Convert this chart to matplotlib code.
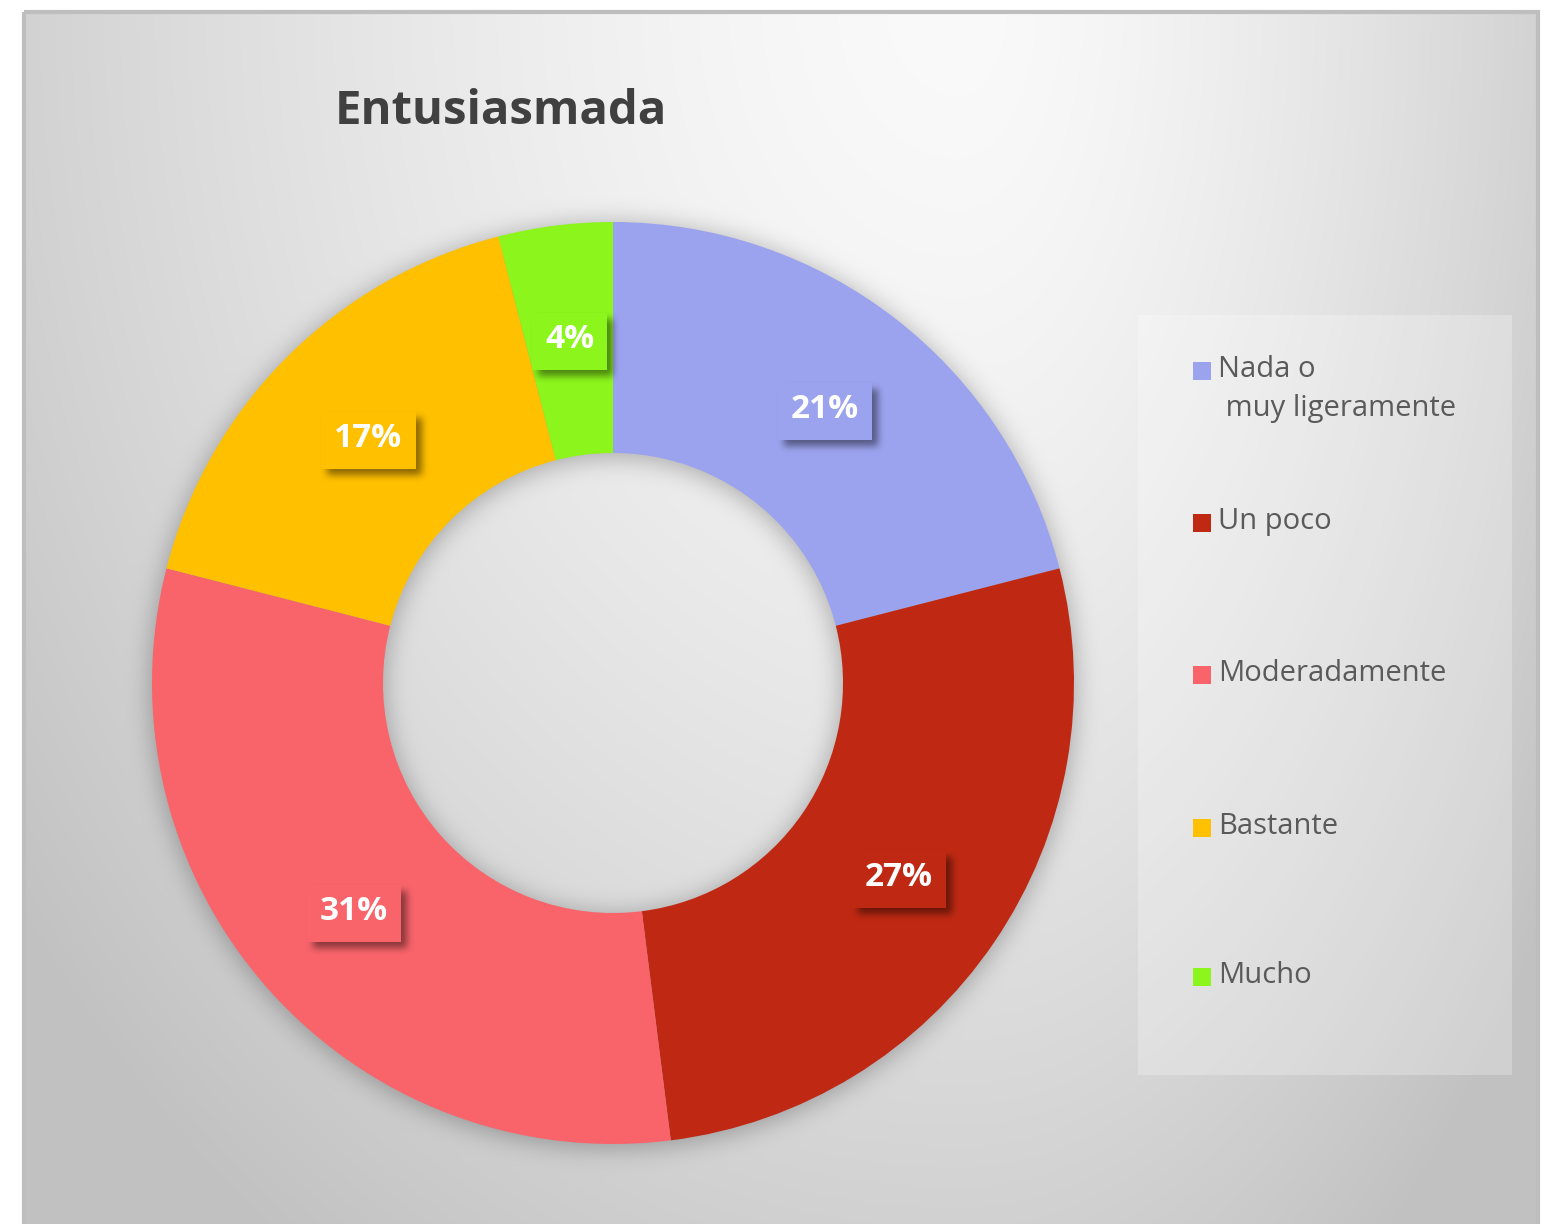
import numpy as np
import matplotlib
matplotlib.use("Agg")
import matplotlib.pyplot as plt
from matplotlib.patches import Rectangle

plt.rcParams["font.family"] = ["Open Sans", "DejaVu Sans"]

title = "Entusiasmada"
categories = ["Nada o\n muy ligeramente", "Un poco", "Moderadamente", "Bastante", "Mucho"]
values = [21, 27, 31, 17, 4]
colors = ["#9BA3EE", "#BF2913", "#F9646B", "#FFC000", "#8BF51C"]

W, H = 1560, 1224
CX, CY, R_OUT, R_IN = 613, 683, 461, 230


def box_blur(a, r, passes=3):
    # cheap gaussian-ish blur with repeated box filters
    for _ in range(passes):
        a = np.pad(a, [(r + 1, r), (0, 0)], mode="edge")
        c = np.cumsum(a, axis=0)
        a = (c[2 * r + 1:, :] - c[:-2 * r - 1, :]) / (2 * r + 1)
        a = np.pad(a, [(0, 0), (r + 1, r)], mode="edge")
        c = np.cumsum(a, axis=1)
        a = (c[:, 2 * r + 1:] - c[:, :-2 * r - 1]) / (2 * r + 1)
    return a


fig = plt.figure(figsize=(W / 100, H / 100), dpi=100)

# background: grey radial gradient + soft shadow of the ring
bg = fig.add_axes([0, 0, 1, 1], zorder=0)
bg.set_xlim(0, W)
bg.set_ylim(H, 0)
bg.axis("off")

yy, xx = np.mgrid[0:H, 0:W] + 0.5
gx, gy = 960, 0
sx = np.where(xx < gx, 930, 580)
d = np.hypot((xx - gx) / sx, (yy - gy) / 1200)
lum = np.clip(0.98 - 0.155 * d ** 1.5, 0.76, 1.0)

rr = np.hypot(xx - CX, yy - CY - 3)
ring = ((rr <= R_OUT) & (rr >= R_IN)).astype(float)
sh = box_blur(ring, 12)
lum = lum * (1 - 0.3 * sh)

img = np.dstack([lum, lum, lum])
inside = (xx >= 24) & (xx <= 1538) & (yy >= 12)
img[~inside] = 1.0
bg.imshow(img, extent=(0, W, H, 0), aspect="auto", interpolation="bilinear")
bg.add_patch(Rectangle((24, 12), 1514, 1300, fill=False, edgecolor="#BEBEBE", linewidth=3))

bg.text(501, 112, title, ha="center", va="center", fontsize=34, fontweight="bold", color="#404040")

# legend
bg.add_patch(Rectangle((1138, 315), 374, 760, facecolor="white", alpha=0.25, edgecolor="none"))
row_y = [371, 523, 675, 828, 977]
for lab, col, y in zip(categories, colors, row_y):
    bg.add_patch(Rectangle((1193, y - 9), 18, 18, facecolor=col, edgecolor="none"))
    bg.text(1218, y - 16, lab, ha="left", va="top", fontsize=21, color="#5A5A5A", linespacing=1.45)

# donut
ax = fig.add_axes([(CX - R_OUT) / W, (H - CY - R_OUT) / H, 2 * R_OUT / W, 2 * R_OUT / H], zorder=1)
ax.patch.set_alpha(0)
wedges, _ = ax.pie(values, colors=colors, startangle=90, counterclock=False, radius=1,
                   wedgeprops=dict(width=1 - R_IN / R_OUT, edgecolor="none", antialiased=True))
ax.set_xlim(-1, 1)
ax.set_ylim(-1, 1)
ax.axis("off")

# data labels with drop shadow
top = fig.add_axes([0, 0, 1, 1], zorder=2)
top.set_xlim(0, W)
top.set_ylim(H, 0)
top.axis("off")
top.patch.set_alpha(0)

tot = float(sum(values))
cum = np.cumsum([0] + values[:-1])
label_pos = []
texts = []
for v, c0 in zip(values, cum):
    ang = np.deg2rad(90 - (c0 + v / 2) / tot * 360)
    px, py = ax.transData.transform((0.75 * np.cos(ang), 0.75 * np.sin(ang)))
    py = H - py
    label_pos.append((px, py))
    t = top.text(px, py, "%d%%" % v, ha="center", va="center", fontsize=24, fontweight="bold",
                 color="white", zorder=5)
    texts.append(t)

fig.canvas.draw()
shadow = np.zeros((H, W))
boxes = []
for t, (px, py) in zip(texts, label_pos):
    ext = t.get_window_extent()
    bw, bh = ext.width + 26, 57
    x0, y0 = px - bw / 2, py - bh / 2 + 2
    boxes.append((x0, y0, bw, bh))
    shadow[(yy >= y0 + 6) & (yy <= y0 + bh + 6) & (xx >= x0 + 6) & (xx <= x0 + bw + 6)] = 1.0
shadow = box_blur(shadow, 3)
sh_img = np.zeros((H, W, 4))
sh_img[..., 3] = 0.45 * shadow
top.imshow(sh_img, extent=(0, W, H, 0), aspect="auto", interpolation="bilinear", zorder=1)
for (x0, y0, bw, bh), col in zip(boxes, colors):
    top.add_patch(Rectangle((x0, y0), bw, bh, facecolor=col, edgecolor="none", zorder=2))

top.set_xlim(0, W)
top.set_ylim(H, 0)
fig.savefig("out.png", dpi=100)
